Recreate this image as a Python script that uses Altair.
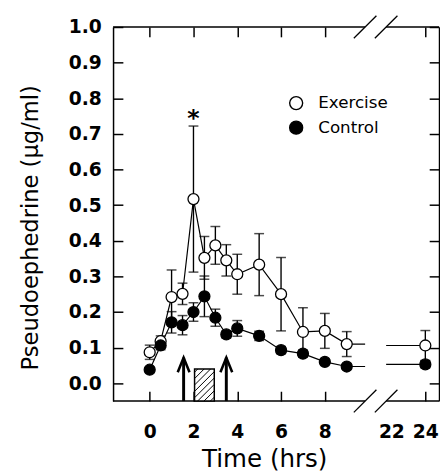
import altair as alt
import pandas as pd

# ---------------- data ----------------
times = [0, 0.5, 1, 1.5, 2, 2.5, 3, 3.5, 4, 5, 6, 7, 8, 9, 24]
exercise = [0.087, 0.118, 0.242, 0.251, 0.517, 0.352, 0.387, 0.345, 0.306, 0.333, 0.250, 0.144, 0.147, 0.110, 0.106]
exercise_err = [0.020, 0.015, 0.076, 0.030, 0.205, 0.060, 0.053, 0.044, 0.056, 0.087, 0.103, 0.068, 0.049, 0.035, 0.042]
control = [0.038, 0.106, 0.171, 0.163, 0.200, 0.244, 0.184, 0.137, 0.154, 0.133, 0.093, 0.083, 0.060, 0.047, 0.053]
control_err = [0.008, 0.012, 0.030, 0.027, 0.026, 0.057, 0.024, 0.010, 0.022, 0.013, 0.010, 0.010, 0.008, 0.008, 0.010]
series_names = ["Exercise", "Control"]
significant = [("Exercise", 2)]

x_tick_hours = [0, 2, 4, 6, 8, 24]
x_label_hours = [0, 2, 4, 6, 8, 22, 24]
y_ticks = [0.0, 0.1, 0.2, 0.3, 0.4, 0.5, 0.6, 0.7, 0.8, 0.9, 1.0]

arrow_hours = [1.55, 3.5]
arrow_tip = 0.072
box_hours = [2.05, 2.95]
box_top = 0.04

# ---------------- broken-axis geometry ----------------
XMIN, XMAX = -1.673, 13.215
YMIN, YMAX = -0.05, 1.0
OFFSET = 11.41            # hours removed by the axis break
BREAK_LO, BREAK_HI = 9.84, 10.80
PLOT_W, PLOT_H = 332, 381
PX_X = PLOT_W / (XMAX - XMIN)
PX_Y = PLOT_H / (YMAX - YMIN)


def pos(t):
    return t if t < 12 else t - OFFSET


X_SCALE = alt.Scale(domain=[XMIN, XMAX], nice=False, zero=False)
Y_SCALE = alt.Scale(domain=[YMIN, YMAX], nice=False, zero=False)

# points table
rows = []
for name, vals, errs in [("Exercise", exercise, exercise_err), ("Control", control, control_err)]:
    for t, v, e in zip(times, vals, errs):
        rows.append(dict(series=name, t=t, pos=pos(t), v=v, lo=v - e, hi=v + e,
                         sig=(name, t) in significant))
pts = pd.DataFrame(rows)

# line table (with stubs up to the break)
lrows = []
for name, vals in [("Exercise", exercise), ("Control", control)]:
    pre = [(pos(t), v) for t, v in zip(times, vals) if t < 12]
    post = [(pos(t), v) for t, v in zip(times, vals) if t >= 12]
    for p, v in pre + [(BREAK_LO, pre[-1][1])]:
        lrows.append(dict(series=name, seg="a", pos=p, v=v))
    for p, v in [(BREAK_HI, post[0][1])] + post:
        lrows.append(dict(series=name, seg="b", pos=p, v=v))
lines_df = pd.DataFrame(lrows)

# frame (top / bottom with a gap at the break)
frame_df = pd.DataFrame(dict(
    x=[XMIN, BREAK_HI, XMIN, BREAK_HI],
    x2=[BREAK_LO, XMAX, BREAK_LO, XMAX],
    y=[YMIN, YMIN, YMAX, YMAX]))

# break slashes
dx, dy = 11.5 / PX_X, 11.5 / PX_Y
srows = []
for bx in [BREAK_LO, BREAK_HI]:
    for by in [YMIN, YMAX]:
        srows.append(dict(x=bx - dx, x2=bx + dx, y=by - dy, y2=by + dy))
slash_df = pd.DataFrame(srows)

# hatched box
W = (box_hours[1] - box_hours[0]) * PX_X
H = (box_top - YMIN) * PX_Y
step = 6.5
hrows = []
c = -H + step / 2
while c < W:
    u1, u2 = max(0, c), min(W, H + c)
    hrows.append(dict(x=box_hours[0] + u1 / PX_X, y=YMIN + (u1 - c) / PX_Y,
                      x2=box_hours[0] + u2 / PX_X, y2=YMIN + (u2 - c) / PX_Y))
    c += step
hatch_df = pd.DataFrame(hrows)
box_df = pd.DataFrame(dict(x=[box_hours[0]], x2=[box_hours[1]], y=[YMIN], y2=[box_top]))
arrow_df = pd.DataFrame(dict(x=arrow_hours, y=[YMIN] * len(arrow_hours), y2=[arrow_tip] * len(arrow_hours)))

NOAX = dict(scale=X_SCALE, axis=None)
NOAY = dict(scale=Y_SCALE, axis=None)

frame = alt.Chart(frame_df).mark_rule(color="black", strokeWidth=1.5).encode(
    x=alt.X("x:Q", **NOAX), x2="x2", y=alt.Y("y:Q", **NOAY))
slashes = alt.Chart(slash_df).mark_rule(color="black", strokeWidth=1.3).encode(
    x=alt.X("x:Q", **NOAX), x2="x2", y=alt.Y("y:Q", **NOAY), y2="y2")
box = alt.Chart(box_df).mark_rect(fill="white", stroke="black", strokeWidth=1.5).encode(
    x=alt.X("x:Q", **NOAX), x2="x2", y=alt.Y("y:Q", **NOAY), y2="y2")
hatch = alt.Chart(hatch_df).mark_rule(color="black", strokeWidth=1).encode(
    x=alt.X("x:Q", **NOAX), x2="x2", y=alt.Y("y:Q", **NOAY), y2="y2")
shafts = alt.Chart(arrow_df).mark_rule(color="black", strokeWidth=3).encode(
    x=alt.X("x:Q", **NOAX), y=alt.Y("y:Q", **NOAY), y2="y2")
heads = alt.Chart(arrow_df).mark_point(shape="M-0.4,1L0,0L0.4,1", size=900, filled=False,
                                       color="black", strokeWidth=2.6, opacity=1).encode(
    x=alt.X("x:Q", **NOAX), y=alt.Y("y2:Q", **NOAY))

lines = alt.Chart(lines_df).mark_line(color="black", strokeWidth=1.2).encode(
    x=alt.X("pos:Q", **NOAX), y=alt.Y("v:Q", **NOAY),
    detail=["series:N", "seg:N"], order="pos:Q")
ebar = alt.Chart(pts).mark_rule(color="black", strokeWidth=1.4).encode(
    x=alt.X("pos:Q", **NOAX), y=alt.Y("lo:Q", **NOAY), y2="hi")
cap_hi = alt.Chart(pts).mark_tick(color="black", orient="horizontal", size=10, thickness=1.5).encode(
    x=alt.X("pos:Q", **NOAX), y=alt.Y("hi:Q", **NOAY))
cap_lo = alt.Chart(pts).mark_tick(color="black", orient="horizontal", size=10, thickness=1.5).encode(
    x=alt.X("pos:Q", **NOAX), y=alt.Y("lo:Q", **NOAY))

points = alt.Chart(pts).mark_circle(size=125, stroke="black", strokeWidth=1.3, opacity=1).encode(
    x=alt.X("pos:Q", **NOAX), y=alt.Y("v:Q", **NOAY),
    fill=alt.Fill("series:N", scale=alt.Scale(domain=series_names, range=["white", "black"]),
                  sort=series_names,
                  legend=alt.Legend(orient="none", legendX=178, legendY=69, title=None,
                                    symbolType="circle", symbolSize=175, symbolStrokeColor="black",
                                    symbolStrokeWidth=1.4, symbolOpacity=1,
                                    labelFont="DejaVu Sans", labelFontSize=17, labelFontWeight="normal",
                                    labelColor="black", labelOffset=14, rowPadding=6, padding=0)))

star = alt.Chart(pts).transform_filter("datum.sig").mark_text(
    text="*", font="DejaVu Sans", fontWeight="bold", fontSize=24, baseline="alphabetic", dy=0,
    color="black").encode(x=alt.X("pos:Q", **NOAX), y=alt.Y("hi:Q", **NOAY))

label_expr = f"format(datum.value > {BREAK_LO} ? datum.value + {OFFSET} : datum.value, 'd')"
in_break = f"datum.value > {BREAK_LO} && datum.value < 12"

axis_common = dict(labelFont="DejaVu Sans", labelFontWeight="bold", labelFontSize=19, labelColor="black",
                   tickColor="black", tickWidth=1.5, domainColor="black", domainWidth=1.5,
                   grid=False, tickSize={"expr": "-10"}, labelFlush=False,
                   titleFont="DejaVu Sans", titleFontWeight="normal", titleColor="black")

axes_a = alt.Chart(pts).mark_point(opacity=0).encode(
    x=alt.X("pos:Q", scale=X_SCALE, axis=alt.Axis(
        orient="bottom", values=[pos(h) for h in x_label_hours], labelExpr=label_expr,
        domain=False, labelPadding=32,
        tickOpacity={"condition": {"test": in_break, "value": 0}, "value": 1},
        labelOffset={"condition": {"test": in_break, "value": 10}, "value": 0},
        title="Time (hrs)", titleX=154, titleY=67, titleAlign="center", titleBaseline="alphabetic",
        titleFontSize=25, **axis_common)),
    y=alt.Y("v:Q", scale=Y_SCALE, axis=alt.Axis(
        orient="left", values=y_ticks, format=".1f", labelPadding=22,
        title="Pseudoephedrine (μg/ml)", titleX=-77, titleY=204, titleAngle=270,
        titleAlign="center", titleBaseline="alphabetic", titleFontSize=23, **axis_common)))

axes_b = alt.Chart(pts).mark_point(opacity=0).encode(
    x=alt.X("pos:Q", scale=X_SCALE, axis=alt.Axis(
        orient="top", values=[pos(h) for h in x_tick_hours], labels=False, domain=False, title=None,
        **axis_common)),
    y=alt.Y("v:Q", scale=Y_SCALE, axis=alt.Axis(
        orient="right", values=y_ticks, labels=False, title=None, **axis_common)))

chart = alt.layer(frame, slashes, box, hatch, shafts, heads, lines, ebar, cap_hi, cap_lo,
                  points, star, axes_a, axes_b).resolve_axis(
    x="independent", y="independent").properties(
    width=PLOT_W, height=PLOT_H,
    autosize=alt.AutoSizeParams(type="none"),
    padding={"left": 107, "top": 15, "right": 1, "bottom": 74},
    background="white").configure_view(stroke=None)

chart.save("out.html", embed_options={"renderer": "svg", "actions": False})
